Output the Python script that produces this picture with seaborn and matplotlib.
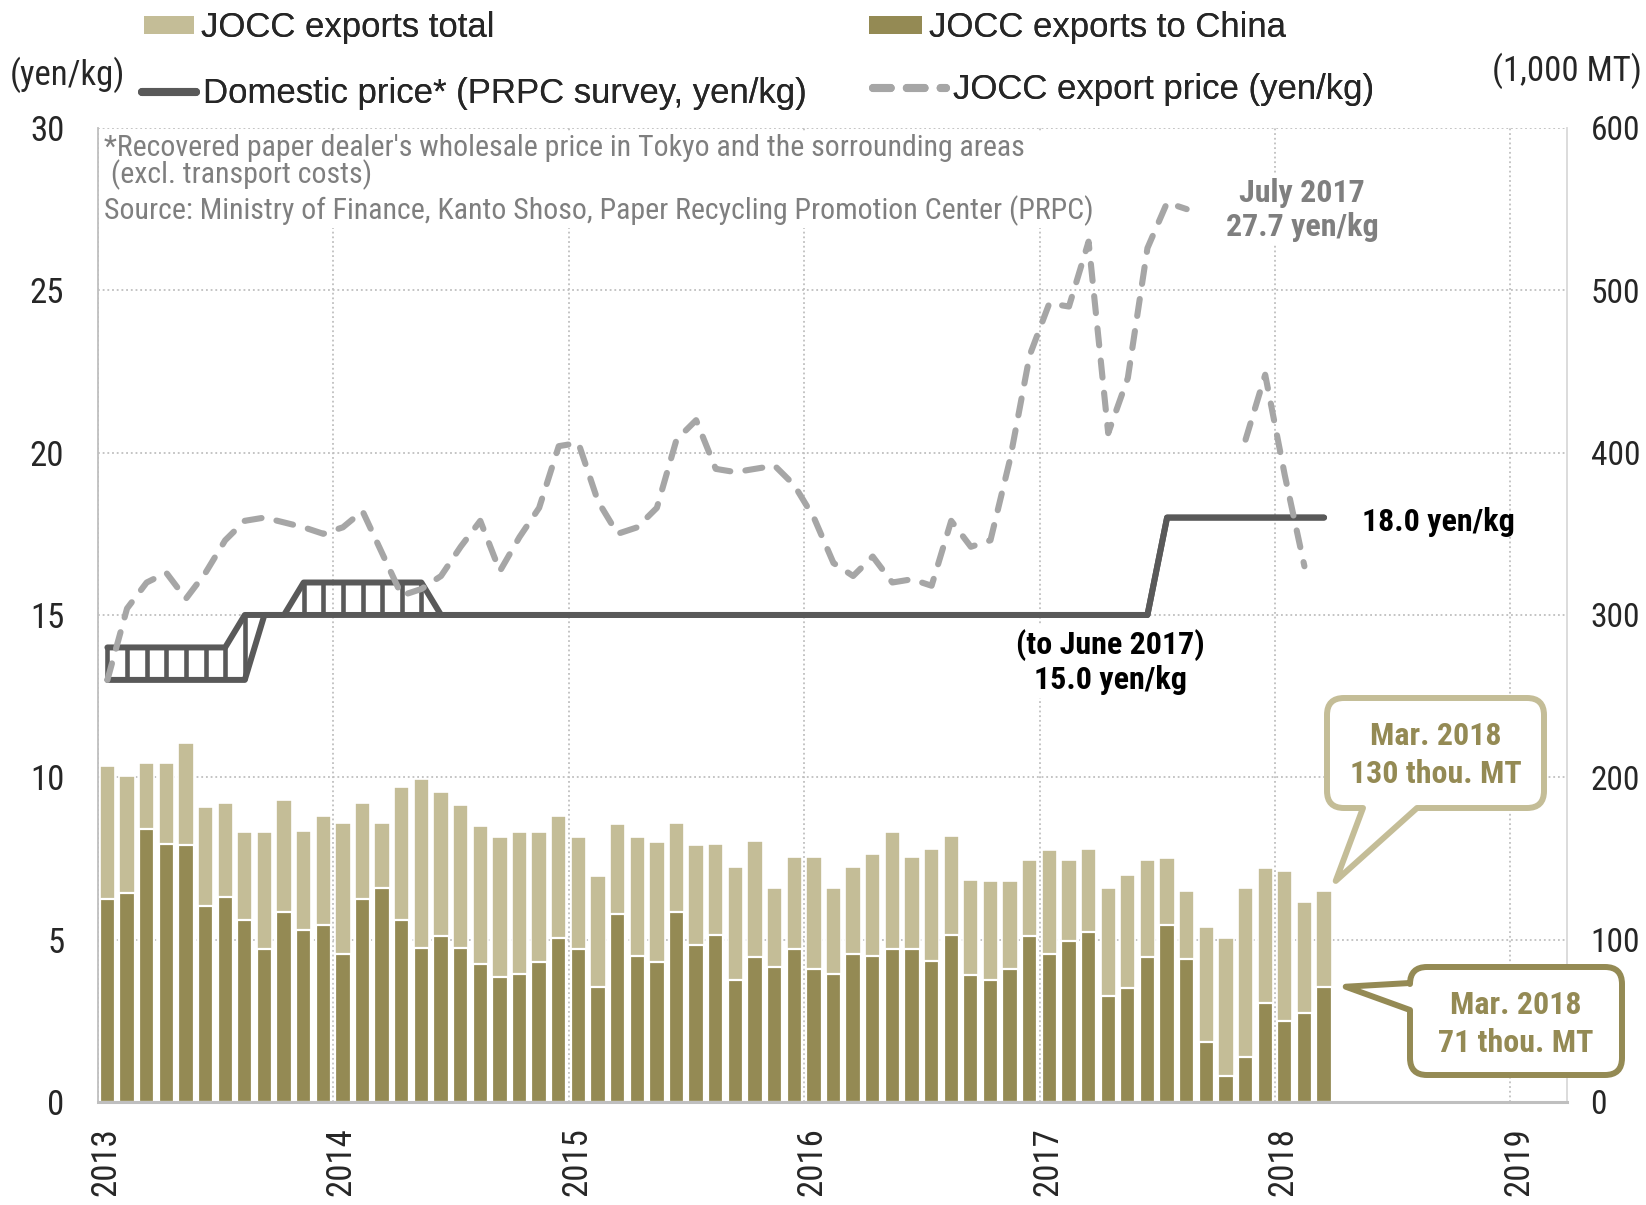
import numpy as np
import pandas as pd
import matplotlib
matplotlib.use("Agg")
import matplotlib.pyplot as plt
import matplotlib.transforms as mtransforms
import seaborn as sns
from matplotlib.lines import Line2D
from matplotlib.patches import Patch, Rectangle, PathPatch
from matplotlib.path import Path
from matplotlib import font_manager

# ---------------------------------------------------------------- data
months = pd.period_range("2013-01", "2018-03", freq="M").strftime("%Y-%m").tolist()
year_ticks = [2013, 2014, 2015, 2016, 2017, 2018, 2019]

# JOCC exports, thousand metric tons
exports_total = [207, 201, 209, 209, 221, 182, 184, 166, 166, 186, 167, 176,
                 172, 184, 172, 194, 199, 191, 183, 170, 163, 166, 166, 176,
                 163, 139, 171, 163, 160, 172, 158, 159, 145, 161, 132, 151,
                 151, 132, 145, 153, 166, 151, 156, 164, 137, 136, 136, 149,
                 155, 149, 156, 132, 140, 149, 150, 130, 108, 101, 132, 144,
                 142, 123, 130]
exports_china = [125, 129, 168, 159, 158, 121, 126, 112, 94, 117, 106, 109,
                 91, 125, 132, 112, 95, 102, 95, 85, 77, 79, 86, 101,
                 94, 71, 116, 90, 86, 117, 97, 103, 75, 89, 83, 94,
                 82, 79, 91, 90, 94, 94, 87, 103, 78, 75, 82, 102,
                 91, 99, 105, 65, 70, 89, 109, 88, 37, 16, 28, 61,
                 50, 55, 71]

# Domestic price range (PRPC survey), yen/kg
domestic_high = [14, 14, 14, 14, 14, 14, 14, 15, 15, 15, 16, 16,
                 16, 16, 16, 16, 16, 15, 15, 15, 15, 15, 15, 15,
                 15, 15, 15, 15, 15, 15, 15, 15, 15, 15, 15, 15,
                 15, 15, 15, 15, 15, 15, 15, 15, 15, 15, 15, 15,
                 15, 15, 15, 15, 15, 15, 18, 18, 18, 18, 18, 18,
                 18, 18, 18]
domestic_low = [13, 13, 13, 13, 13, 13, 13, 13, 15, 15, 15, 15,
                15, 15, 15, 15, 15, 15, 15, 15, 15, 15, 15, 15,
                15, 15, 15, 15, 15, 15, 15, 15, 15, 15, 15, 15,
                15, 15, 15, 15, 15, 15, 15, 15, 15, 15, 15, 15,
                15, 15, 15, 15, 15, 15, 18, 18, 18, 18, 18, 18,
                18, 18, 18]

# JOCC export unit price, yen/kg (no quotes for Sep-Oct 2017 and Mar 2018)
export_price = [13.0, 15.2, 16.0, 16.3, 15.5, 16.3, 17.3, 17.9, 18.0, 17.85, 17.7, 17.5,
                17.7, 18.2, 16.9, 15.6, 15.8, 16.2, 17.1, 17.9, 16.35, 17.4, 18.3, 20.2,
                20.3, 18.5, 17.5, 17.7, 18.3, 20.4, 21.0, 19.5, 19.4, 19.5, 19.6, 19.0,
                18.0, 16.6, 16.2, 16.8, 16.0, 16.1, 15.9, 17.9, 17.1, 17.3, 19.8, 23.0,
                24.6, 24.5, 26.5, 20.6, 22.3, 26.3, 27.7, 27.5, np.nan, np.nan, 20.4, 22.4,
                19.3, 16.5, np.nan]

# ---------------------------------------------------------------- styling
LIGHT = "#C4BD97"
DARK = "#948A54"
DOM = "#595959"
EXP = "#A6A6A6"
NOTE = "#7F7F7F"
GRID = "#BFBFBF"

W, H = 1646, 1205


def fx(px):
    return px / W


def fy(py):
    return 1 - py / H


sns.set_theme(style="white")


def pick_condensed():
    entries = font_manager.fontManager.ttflist
    for name in ["Liberation Sans Narrow", "Arial Narrow", "Roboto Condensed",
                 "PT Sans Narrow", "Archivo Narrow", "Asap Condensed",
                 "Barlow Semi Condensed"]:
        bold_ok = any(e.name == name and e.weight in (700, "bold") and "[" not in e.fname
                      for e in entries)
        if bold_ok:
            return name
    return "Liberation Sans"


COND = pick_condensed()
plt.rcParams["font.family"] = [COND, "Liberation Sans", "DejaVu Sans"]
REG = ["Liberation Sans", "DejaVu Sans"]

df = pd.DataFrame({
    "month": months,
    "total": exports_total,
    "china": exports_china,
    "dom_high": domestic_high,
    "dom_low": domestic_low,
    "export_price": export_price,
})
per = pd.PeriodIndex(df["month"], freq="M")
df["x"] = per.year + (per.month - 0.5) / 12
df["seg"] = df["export_price"].isna().cumsum()

BAR_W = 0.78
fig = plt.figure(figsize=(W / 100, H / 100), dpi=100)
ax = fig.add_axes([0.0593, 0.0855, 0.8927, 0.8083])
ax2 = ax.twinx()

# bars on the right-hand (volume) axis
sns.barplot(data=df, x="x", y="total", native_scale=True, width=BAR_W,
            color=LIGHT, saturation=1, edgecolor="white", linewidth=1.2,
            errorbar=None, ax=ax)
sns.barplot(data=df, x="x", y="china", native_scale=True, width=BAR_W,
            color=DARK, saturation=1, edgecolor="white", linewidth=1.6,
            errorbar=None, ax=ax)

# domestic price range on the left-hand (price) axis
for col in ["dom_low", "dom_high"]:
    sns.lineplot(data=df, x="x", y=col, color=DOM, linewidth=4.3,
                 solid_capstyle="round", solid_joinstyle="round", ax=ax2)
rng = df[df["dom_high"] > df["dom_low"]]
ax2.vlines(rng["x"], rng["dom_low"], rng["dom_high"], color=DOM, linewidth=3.3)

# export price, broken where there is no quote
ep = df.dropna(subset=["export_price"])
sns.lineplot(data=ep, x="x", y="export_price", units="seg", estimator=None,
             color=EXP, linewidth=4.4, linestyle=(0, (2.8, 2.5)),
             dash_capstyle="round", ax=ax2)

# ---------------------------------------------------------------- axes
ax.set_xlim(2013, 2019.24)
ax.set_ylim(0, 600)
ax2.set_ylim(0, 30)
ax.set_xlabel("")
ax.set_ylabel("")
ax2.set_ylabel("")

ax.set_xticks(year_ticks)
ax.set_xticklabels([str(y) for y in year_ticks], rotation=90)
ax.set_yticks(range(0, 601, 100))
ax2.set_yticks(range(0, 31, 5))

ax.yaxis.tick_right()
ax2.yaxis.tick_left()
ax.tick_params(axis="y", length=0, pad=17, labelsize=24, labelright=True, labelleft=False)
ax2.tick_params(axis="y", length=0, pad=24, labelsize=25, labelleft=True, labelright=False)
ax.tick_params(axis="x", length=0, pad=18, labelsize=25)
shift = mtransforms.ScaledTranslation(8 / 100, 0, fig.dpi_scale_trans)
for lab in ax.get_xticklabels():
    lab.set_transform(lab.get_transform() + shift)

ax.set_axisbelow(True)
ax.grid(True, axis="both", color=GRID, linestyle=(0, (1, 1.6)), linewidth=1.3)
ax2.grid(False)

ax.spines["top"].set_visible(False)
ax.spines["left"].set_color(GRID)
ax.spines["left"].set_linewidth(1.3)
ax.spines["bottom"].set_color(GRID)
ax.spines["bottom"].set_linewidth(2.2)
ax.spines["right"].set_color("#D9D9D9")
ax.spines["right"].set_linewidth(1.3)
for side in ax2.spines:
    ax2.spines[side].set_visible(False)

# ---------------------------------------------------------------- texts
fig.text(fx(10), fy(75), "(yen/kg)", ha="left", va="center", fontsize=25)
fig.text(fx(1642), fy(71), "(1,000 MT)", ha="right", va="center", fontsize=25)

fig.patches.append(Rectangle((fx(99), fy(228)), fx(1105) - fx(99), fy(131) - fy(228),
                             transform=fig.transFigure, facecolor="white",
                             edgecolor="none", zorder=1))
fig.text(fx(104), fy(134),
         "*Recovered paper dealer's wholesale price in Tokyo and the sorrounding areas\n"
         " (excl. transport costs)",
         ha="left", va="top", fontsize=21.5, color=NOTE, linespacing=0.9, zorder=2)
fig.text(fx(104), fy(211),
         "Source: Ministry of Finance, Kanto Shoso, Paper Recycling Promotion Center (PRPC)",
         ha="left", va="center", fontsize=21.5, color=NOTE, zorder=2)

white_box = dict(facecolor="white", edgecolor="none", pad=2)
fig.text(fx(1302), fy(210), "July 2017\n27.7 yen/kg", ha="center", va="center",
         fontsize=23, fontweight="bold", color=NOTE, linespacing=1.15, bbox=white_box)
fig.text(fx(1362), fy(522), "18.0 yen/kg", ha="left", va="center",
         fontsize=23, fontweight="bold", color="black")
fig.text(fx(1110), fy(662), "(to June 2017)\n15.0 yen/kg", ha="center", va="center",
         fontsize=23, fontweight="bold", color="black", linespacing=1.15, bbox=white_box)


# ---------------------------------------------------------------- callouts
def callout_path(xl, xr, yb, yt, r, side, b0, b1, tip):
    """Rounded box with a pointed tail; pixel coordinates, y upward."""
    verts, codes = [], []

    def mv(p):
        verts.append(p)
        codes.append(Path.MOVETO)

    def ln(p):
        verts.append(p)
        codes.append(Path.LINETO)

    def cv(c, p):
        verts.extend([c, p])
        codes.extend([Path.CURVE3, Path.CURVE3])

    mv((xl + r, yt))
    ln((xr - r, yt))
    cv((xr, yt), (xr, yt - r))
    ln((xr, yb + r))
    cv((xr, yb), (xr - r, yb))
    if side == "bottom":
        ln((b1, yb))
        ln(tip)
        ln((b0, yb))
    ln((xl + r, yb))
    cv((xl, yb), (xl, yb + r))
    if side == "left":
        ln((xl, b0))
        ln(tip)
        ln((xl, b1))
    ln((xl, yt - r))
    cv((xl, yt), (xl + r, yt))
    verts.append((xl + r, yt))
    codes.append(Path.CLOSEPOLY)
    return Path(verts, codes)


last = df.iloc[-1]
half = BAR_W / 2 / 12
tot_px = ax.transData.transform((last["x"] + half, last["total"]))
chn_px = ax.transData.transform((last["x"] + half, last["china"]))

box1 = callout_path(1327, 1544, H - 808, H - 698, 17, "bottom", 1363, 1417,
                    (tot_px[0] + 4, tot_px[1] + 10))
box2 = callout_path(1410, 1622, H - 1075, H - 967, 17, "left", H - 1010, H - 983,
                    (chn_px[0] + 14, chn_px[1]))
for path, ec in [(box1, LIGHT), (box2, DARK)]:
    fig.add_artist(PathPatch(path, transform=mtransforms.IdentityTransform(),
                             facecolor="white", edgecolor=ec, linewidth=4.3,
                             joinstyle="round", zorder=3))
fig.text(fx(1435.5), fy(755), f"Mar. 2018\n{last['total']:.0f} thou. MT",
         ha="center", va="center", fontsize=23, fontweight="bold", color=DARK,
         linespacing=1.3, zorder=4)
fig.text(fx(1516), fy(1024), f"Mar. 2018\n{last['china']:.0f} thou. MT",
         ha="center", va="center", fontsize=23, fontweight="bold", color=DARK,
         linespacing=1.3, zorder=4)

# ---------------------------------------------------------------- legend
leg_kw = dict(loc="center left", frameon=False, borderaxespad=0, borderpad=0,
              handletextpad=0.2, prop={"family": REG, "size": 25})
entries = [
    (Patch(facecolor=LIGHT, edgecolor="none"), "JOCC exports total", 144, 28, 1.44),
    (Patch(facecolor=DARK, edgecolor="none"), "JOCC exports to China", 869, 28, 1.53),
    (Line2D([], [], color=DOM, linewidth=5.8, solid_capstyle="round"),
     "Domestic price* (PRPC survey, yen/kg)", 142, 93, 1.56),
    (Line2D([], [], color=EXP, linewidth=5.8, linestyle=(0, (2.2, 2.0)),
            dash_capstyle="round"),
     "JOCC export price (yen/kg)", 873, 89, 2.1),
]
for handle, label, lx, ly, hl in entries:
    fig.add_artist(fig.legend(handles=[handle], labels=[label],
                              bbox_to_anchor=(fx(lx), fy(ly)), handlelength=hl,
                              handleheight=0.43, **leg_kw))

fig.savefig("out.png", dpi=100)
